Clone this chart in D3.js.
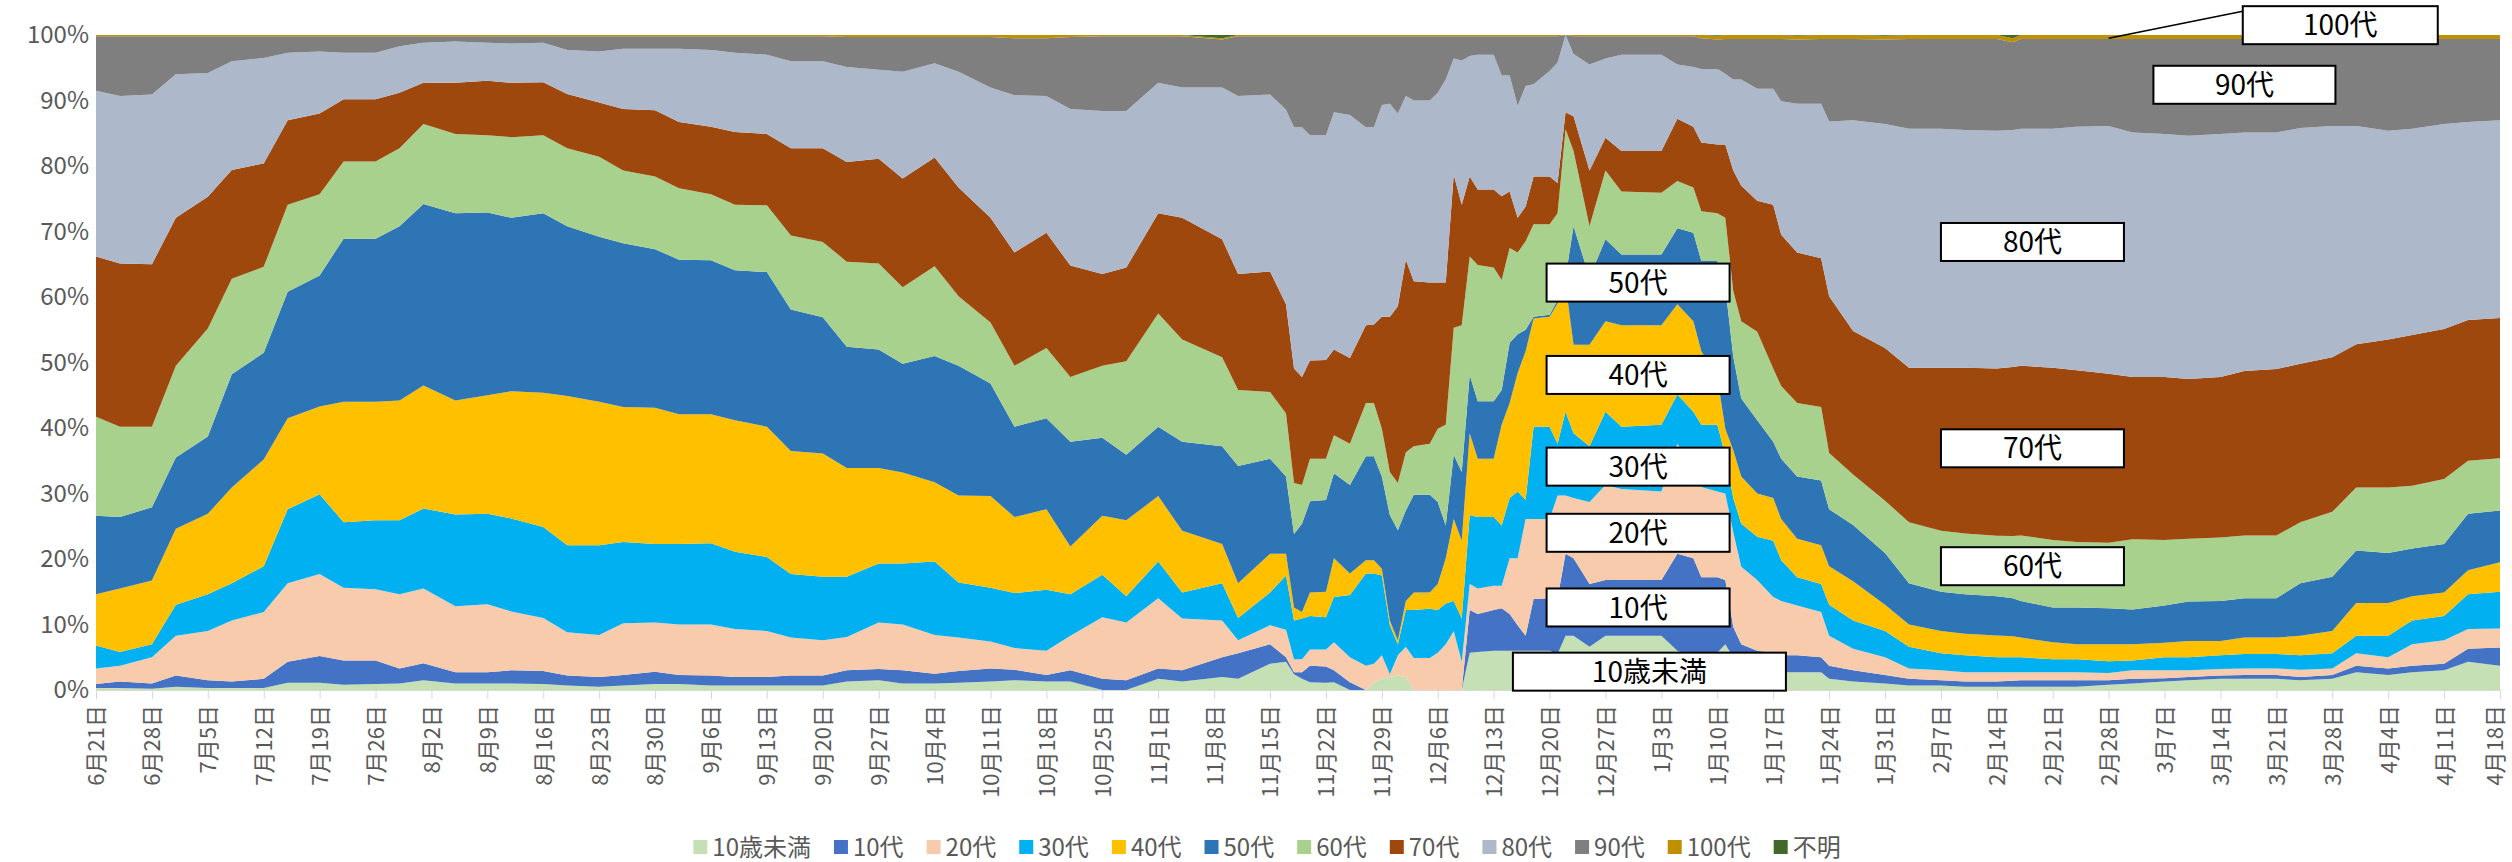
<!DOCTYPE html>
<html>
<head>
<meta charset="utf-8">
<script src="https://cdn.jsdelivr.net/npm/d3@7"></script>
<style>
  body { margin: 0; background: #fff; }
  svg text { font-family: "Noto Sans CJK JP", "Noto Sans", sans-serif; }
</style>
</head>
<body>
<svg id="chart"></svg>
<script>
var width = 2512,
    height = 862;

// sample dates (daily data at ~3-day steps, denser where it jumps)
var dates = [
  "2020-06-21","2020-06-24","2020-06-28","2020-07-01","2020-07-05","2020-07-08","2020-07-12","2020-07-15","2020-07-19","2020-07-22",
  "2020-07-26","2020-07-29","2020-08-01","2020-08-05","2020-08-09","2020-08-12","2020-08-16","2020-08-19","2020-08-23","2020-08-26",
  "2020-08-30","2020-09-02","2020-09-06","2020-09-09","2020-09-13","2020-09-16","2020-09-20","2020-09-23","2020-09-27","2020-09-30",
  "2020-10-04","2020-10-07","2020-10-11","2020-10-14","2020-10-18","2020-10-21","2020-10-25","2020-10-28","2020-11-01","2020-11-04",
  "2020-11-09","2020-11-11","2020-11-15","2020-11-17","2020-11-18","2020-11-19","2020-11-20","2020-11-22","2020-11-23","2020-11-25",
  "2020-11-27","2020-11-28","2020-11-29","2020-11-30","2020-12-01","2020-12-02","2020-12-03","2020-12-05","2020-12-06","2020-12-07",
  "2020-12-08","2020-12-09","2020-12-10","2020-12-11","2020-12-13","2020-12-14","2020-12-15","2020-12-16","2020-12-17","2020-12-18",
  "2020-12-20","2020-12-21","2020-12-22","2020-12-23","2020-12-25","2020-12-27","2020-12-29","2021-01-03","2021-01-05","2021-01-07",
  "2021-01-08","2021-01-10","2021-01-11","2021-01-12","2021-01-13","2021-01-15","2021-01-17","2021-01-18","2021-01-20","2021-01-23",
  "2021-01-24","2021-01-27","2021-01-31","2021-02-03","2021-02-07","2021-02-10","2021-02-14","2021-02-16","2021-02-17","2021-02-21",
  "2021-02-24","2021-02-28","2021-03-03","2021-03-07","2021-03-10","2021-03-14","2021-03-17","2021-03-21","2021-03-24","2021-03-28",
  "2021-03-31","2021-04-04","2021-04-07","2021-04-11","2021-04-14","2021-04-18"
];

var ageGroups = ["10歳未満", "10代", "20代", "30代", "40代", "50代", "60代", "70代", "80代", "90代", "100代", "不明"];

// share of cases (%) per age group
var under10 = [
  .3,.3,.2,.5,.3,.3,.3,1.1,1.1,.8, .9,1.0,1.5,1.0,1.0,1.0,.9,.7,.5,.7,
  .9,.9,.7,.7,.7,.7,.7,1.3,1.5,1.0, 1.0,1.1,1.3,1.5,1.3,1.3,0,0,1.7,1.3,
  2.0,1.7,4.0,4.3,2.4,1.7,1.2,1.1,1.2,0, 0,1.1,1.7,2.0,2.2,2.0,0,0,0,0,
  0,0,5.7,5.8,6.0,6.0,6.0,6.0,6.0,6.0, 6.0,5.5,8.3,8.3,6.6,8.3,8.3,8.3,6.0,5.0,
  5.7,5.7,7.0,5.0,5.0,3.0,3.0,2.7,2.7,2.7, 1.7,1.3,1.0,.7,.7,.5,.5,.5,.5,.5,
  .5,.8,1.0,1.3,1.5,1.7,1.7,1.7,1.5,1.7, 2.7,2.3,2.7,3.0,4.3,3.7
];
var age10s = [
  .6,1.0,.8,1.7,1.2,1.0,1.4,3.2,4.1,3.7, 3.6,2.3,2.6,1.7,1.7,2.0,2.0,1.5,1.5,1.6,
  1.9,1.4,1.5,1.3,1.3,1.5,1.5,1.7,1.7,2.0, 1.5,1.8,2.0,1.6,1.0,1.7,1.7,1.5,1.6,1.7,
  3.0,3.9,3.0,.7,.3,1.0,2.5,2.5,1.8,1.2, 0,0,0,0,0,0,0,0,0,0,
  0,0,6.5,5.8,6.2,6.5,5.6,3.9,2.3,7.9, 8.0,8.5,12.5,11.8,9.6,8.5,8.5,8.5,14.8,15.1,
  11.5,11.5,9.8,4.6,2.0,3.0,2.7,2.6,2.6,2.3, 2.0,1.7,1.3,1.0,.8,.8,.8,.9,1.0,1.0,
  1.0,.7,.7,.5,.5,.5,.6,.6,.5,.6, 1.0,1.0,1.0,1.0,2.0,2.8
];
var age20s = [
  2.4,2.4,4.0,6.1,7.5,9.3,10.2,12.0,12.5,11.1, 10.9,11.3,11.4,10.1,10.4,9.0,8.1,6.6,6.4,7.9,
  7.5,7.7,7.8,7.3,7.0,5.8,5.4,5.1,7.1,7.0, 5.9,5.1,4.1,3.3,3.7,5.3,9.4,8.8,10.7,7.9,
  5.6,2.0,2.9,4.2,2.0,2.0,2.5,2.6,4.3,3.8, 3.7,2.9,3.6,.4,3.1,4.6,4.9,4.9,5.7,7.0,
  9.0,4.3,4.0,3.9,3.7,3.4,8.5,10.2,17.8,12.2, 12.1,15.7,8.9,9.2,12.5,14.5,13.9,13.5,16.8,13.8,
  13.8,13.1,13.2,14.5,11.8,10.8,8.5,8.3,7.6,6.9, 4.6,3.3,2.7,1.6,1.5,1.4,1.4,1.3,1.2,1.2,
  1.2,1.1,1.3,1.2,1.0,1.0,1.0,1.0,1.1,1.0, 1.9,1.7,3.3,3.6,3.0,2.9
];
var age30s = [
  3.5,2.1,2.0,4.7,5.6,5.7,7.0,11.3,12.2,10.0, 10.5,11.3,12.2,14.0,13.8,14.2,13.9,13.3,13.7,12.4,
  12.0,12.3,12.4,11.8,11.3,9.7,9.7,9.2,9.0,9.3, 11.2,8.4,8.2,8.4,9.3,6.3,6.5,4.0,5.6,4.0,
  5.7,3.4,5.0,8.3,5.9,6.2,5.1,4.9,6.9,9.5, 14.1,13.8,12.2,7.5,1.7,5.6,7.3,7.5,6.5,6.2,
  4.6,6.6,10.5,10.9,10.5,9.2,9.2,10.2,2.9,14.1, 14.1,7.9,12.8,9.9,8.5,11.2,9.5,10.2,7.5,8.6,
  9.5,10.2,5.9,5.2,6.6,6.6,8.6,6.2,4.3,4.3, 4.7,4.3,4.0,3.3,2.6,2.6,2.3,2.3,2.3,2.0,
  2.0,1.8,1.5,2.0,2.0,2.1,2.2,2.2,2.2,2.3, 2.7,3.3,3.6,3.7,5.3,5.6
];
var age40s = [
  7.8,9.7,9.7,11.6,12.3,14.6,16.3,13.9,13.4,18.4, 18.1,18.3,18.8,17.4,18.1,19.4,20.5,22.8,21.9,20.6,
  20.8,19.8,19.7,20.1,19.9,18.8,18.8,16.6,14.6,13.9, 12.1,13.3,14.0,11.6,12.3,7.3,9.0,11.6,10.0,9.4,
  6.0,5.3,5.9,3.3,2.0,1.0,3.6,3.9,5.9,3.3, 2.0,2.0,1.0,.7,.6,1.4,2.7,2.5,4.0,6.9,
  12.5,11.9,12.5,8.9,8.9,15.4,14.5,18.1,22.7,16.5, 16.8,21.4,19.5,13.5,15.5,13.8,15.5,15.2,13.8,13.8,
  11.2,7.3,4.0,7.3,7.2,6.6,6.5,6.3,5.9,5.9, 5.9,6.0,4.0,3.4,3.4,3.3,3.3,3.2,3.0,2.6,
  2.3,2.6,2.5,2.2,2.5,2.2,2.5,2.5,3.0,3.4, 5.0,5.0,3.7,3.6,3.7,4.5
];
var age50s = [
  12.0,10.9,11.2,10.9,11.8,17.3,16.3,19.3,20.0,24.9, 24.9,26.6,27.7,28.6,27.9,26.5,27.4,25.9,25.2,25.0,
  24.2,23.6,23.5,22.9,23.6,21.6,20.8,18.5,18.1,16.6, 19.3,19.8,17.2,13.8,13.9,16.0,11.9,10.0,10.6,13.6,
  14.9,17.9,14.5,11.8,11.2,13.5,13.9,14.0,13.0,13.5, 15.9,15.9,14.1,16.1,16.8,13.8,14.9,14.9,12.5,5.0,
  9.8,10.5,8.9,8.8,8.8,5.3,9.2,5.9,3.3,.3, .3,.5,1.0,18.1,10.3,12.5,10.8,10.8,11.6,13.5,
  13.8,17.7,21.7,14.3,11.9,11.2,8.6,9.2,9.5,9.9, 8.7,8.6,7.9,6.3,6.0,6.0,6.0,5.8,5.6,5.3,
  5.6,5.5,5.3,5.7,6.0,6.1,6.0,6.0,8.0,8.3, 8.0,7.6,7.3,7.4,8.6,7.9
];
var age60s = [
  15.1,13.8,12.3,14.0,16.5,14.6,13.1,13.3,12.4,11.8, 11.8,11.9,12.2,12.1,11.8,12.3,11.9,11.9,12.2,11.1,
  11.1,10.9,10.1,10.0,10.2,11.3,11.5,13.0,13.1,11.7, 13.7,10.6,9.3,9.3,10.7,9.9,11.0,14.3,17.3,15.6,
  13.6,11.6,10.2,9.6,7.8,5.9,6.5,6.3,5.8,6.3, 8.1,8.1,7.3,6.6,7.2,8.9,7.4,7.8,11.2,15.4,
  19.4,22.4,18.1,20.8,20.4,16.8,14.5,12.5,13.5,14.1, 13.8,13.3,22.6,11.5,7.8,10.5,9.6,9.4,7.2,6.9,
  7.6,7.3,10.5,10.0,11.8,13.5,11.2,11.1,11.2,11.2, 8.6,7.7,8.0,9.3,9.3,9.3,9.2,9.5,10.0,10.3,
  10.0,10.0,10.7,10.0,9.6,9.7,9.6,9.6,9.3,9.9, 9.6,10.0,9.6,9.9,8.1,8.0
];
var age70s = [
  24.5,24.9,24.8,22.6,20.1,16.6,15.8,12.9,12.3,9.5, 9.5,8.5,6.3,7.8,8.3,8.3,8.1,8.3,8.3,9.4,
  10.1,10.1,10.3,11.1,10.9,13.3,14.3,15.2,16.0,16.6, 16.6,16.6,16.0,17.3,17.6,17.0,14.0,14.3,15.3,18.6,
  18.0,17.7,18.4,16.7,17.5,16.5,15.0,15.1,13.1,13.1, 11.9,12.0,17.1,23.7,27.0,29.4,25.2,24.6,22.3,21.7,
  23.4,18.4,12.2,11.5,11.9,12.8,8.6,5.3,5.3,7.3, 7.3,4.6,2.6,5.3,8.5,5.0,6.2,6.4,9.5,9.3,
  10.5,10.5,11.2,18.4,20.7,20.0,25.0,23.1,23.0,22.7, 23.9,21.9,23.3,23.6,24.9,25.3,25.5,25.8,25.9,26.3,
  26.2,25.8,24.8,24.9,24.4,24.5,25.1,25.4,24.2,23.6, 21.9,22.6,23.0,22.9,21.5,21.4
];
var age80s = [
  25.3,25.6,25.9,21.9,18.9,16.6,16.1,10.3,9.5,7.1, 7.1,7.1,6.1,6.3,5.8,6.0,6.0,6.7,7.8,9.2,
  9.4,11.2,11.7,12.1,12.1,13.3,13.3,14.5,13.6,16.3, 14.4,17.7,19.9,24.0,20.9,23.9,24.9,23.9,19.9,19.9,
  23.2,27.2,27.0,29.7,36.8,38.1,34.4,34.3,36.2,37.1, 30.2,30.1,32.3,32.5,29.4,25.0,27.6,27.8,29.0,31.0,
  17.7,22.0,18.4,20.6,20.6,18.4,17.7,17.1,18.4,14.1, 16.1,18.4,11.8,9.5,16.2,12.1,14.7,14.7,8.3,9.1,
  11.2,11.5,10.8,13.9,16.2,17.1,17.7,20.4,22.7,23.6, 26.7,32.2,34.2,36.5,36.5,36.3,36.2,36.2,36.2,36.5,
  37.2,37.8,37.3,37.1,37.1,37.1,36.4,36.1,36.0,35.3, 33.3,31.9,31.5,31.3,30.2,30.2
];
var age90s = [
  8.3,9.1,8.9,5.8,5.6,3.8,3.3,2.5,2.3,2.5, 2.5,1.5,1.0,.8,1.0,1.1,1.0,2.1,2.3,1.9,
  1.9,1.9,2.1,2.5,2.8,3.8,3.8,4.6,5.0,5.3, 4.0,5.3,7.7,8.7,8.8,11.0,11.4,11.4,7.1,7.8,
  7.3,9.1,8.9,11.2,13.9,13.9,15.1,15.1,11.6,12.0, 13.9,13.9,10.5,10.3,11.8,9.1,9.8,9.8,8.6,6.6,
  3.4,3.7,3.0,2.8,2.8,6.0,6.0,10.6,7.6,7.3, 5.3,4.0,0,2.7,4.3,3.4,2.8,2.8,4.3,4.7,
  4.7,4.5,5.3,6.2,6.2,7.6,7.6,9.5,9.8,9.9, 12.6,12.4,12.9,13.7,13.7,13.9,14.0,13.4,13.7,13.7,
  13.4,13.3,14.3,14.5,14.8,14.5,14.3,14.3,13.6,13.3, 13.3,14.0,13.7,13.0,12.7,12.4
];
var age100s = [
  .2,.2,.2,.2,.2,.2,.2,.2,.2,.2, .2,.2,.2,.2,.2,.2,.2,.2,.2,.2,
  .2,.2,.2,.2,.2,.2,.2,.3,.3,.3, .3,.3,.3,.5,.5,.3,.2,.2,.2,.2,
  .2,.2,.2,.2,.2,.2,.2,.2,.2,.2, .2,.2,.2,.2,.2,.2,.2,.2,.2,.2,
  .2,.2,.2,.2,.2,.2,.2,.2,.2,.2, .2,.2,0,.2,.2,.2,.2,.2,.2,.2,
  .5,.6,.6,.6,.6,.6,.6,.6,.6,.6, .6,.6,.6,.6,.6,.6,.6,.6,.6,.6,
  .6,.6,.6,.6,.6,.6,.6,.6,.6,.6, .6,.6,.6,.6,.6,.6
];
var unknown = [
  0,0,0,0,0,0,0,0,0,0, 0,0,0,0,0,0,0,0,0,0,
  0,0,0,0,0,0,0,0,0,0, 0,0,0,0,0,0,0,0,0,0,
  .5,0,0,0,0,0,0,0,0,0, 0,0,0,0,0,0,0,0,0,0,
  0,0,0,0,0,0,0,0,0,0, 0,0,0,0,0,0,0,0,0,0,
  0,.1,0,0,0,0,0,0,.1,0, 0,0,.1,0,0,0,0,.5,0,0,
  0,0,0,0,0,0,0,0,0,0, 0,0,0,0,0,0
];

var seriesValues = [under10, age10s, age20s, age30s, age40s, age50s, age60s, age70s, age80s, age90s, age100s, unknown];

var colors = ["#C5E0B4", "#4472C4", "#F8CBAD", "#00B0F0", "#FFC000", "#2E75B6",
              "#A9D18E", "#9E480E", "#ADB9CA", "#7F7F7F", "#BF9000", "#43682B"];

// boxed labels on the chart (centre date / share)
var boxLabels = [
  {text: "100代", at: "2021-03-29 00:00", share: 1.015, w: 195},
  {text: "90代", at: "2021-03-17 00:00", share: 0.924, w: 182},
  {text: "80代", at: "2021-02-18 11:00", share: 0.684, w: 183},
  {text: "70代", at: "2021-02-18 11:00", share: 0.369, w: 183},
  {text: "60代", at: "2021-02-18 11:00", share: 0.189, w: 183},
  {text: "50代", at: "2020-12-31 02:00", share: 0.622, w: 183},
  {text: "40代", at: "2020-12-31 02:00", share: 0.481, w: 183},
  {text: "30代", at: "2020-12-31 02:00", share: 0.341, w: 183},
  {text: "20代", at: "2020-12-31 02:00", share: 0.240, w: 183},
  {text: "10代", at: "2020-12-31 02:00", share: 0.126, w: 183},
  {text: "10歳未満", at: "2021-01-01 12:00", share: 0.028, w: 273}
];

var parseDate = d3.timeParse("%Y-%m-%d");
var parseTime = d3.timeParse("%Y-%m-%d %H:%M");

var svg = d3.select("#chart")
    .attr("width", width)
    .attr("height", height)
    .style("background", "#fff");

var rows = dates.map(function(d, i) {
  var r = {date: parseDate(d)};
  ageGroups.forEach(function(k, j) { r[k] = seriesValues[j][i]; });
  return r;
});

var x = d3.scaleTime()
    .domain([parseDate("2020-06-21"), parseDate("2021-04-18")])
    .range([96, 2500]);
var y = d3.scaleLinear()
    .domain([0, 1])
    .range([690, 35]);

var layers = d3.stack()
    .keys(ageGroups)
    .offset(d3.stackOffsetExpand)(rows);

var area = d3.area()
    .x(function(d) { return x(d.data.date); })
    .y0(function(d) { return y(d[0]); })
    .y1(function(d) { return y(d[1]); });

svg.append("g").selectAll("path")
    .data(layers)
  .enter().append("path")
    .attr("d", area)
    .attr("fill", function(d, i) { return colors[i]; });

//x axis
var xAxis = svg.append("g")
    .attr("transform", "translate(0,690)")
    .call(d3.axisBottom(x)
      .ticks(d3.timeWeek.every(1))
      .tickFormat(d3.timeFormat("%-m月%-d日"))
      .tickSizeInner(9)
      .tickSizeOuter(0))
    .attr("font-family", null)
    .attr("font-size", null);
xAxis.select(".domain").attr("stroke", "#d9d9d9");
xAxis.selectAll(".tick line").attr("stroke", "#d9d9d9");
var tickLabels = xAxis.selectAll(".tick text")
    .attr("transform", "rotate(-90)")
    .attr("text-anchor", "end")
    .attr("x", -15)
    .attr("y", 0)
    .attr("dy", "0.36em")
    .attr("fill", "#595959")
    .style("font-size", "22px");
// keep the last label inside the page edge
tickLabels.filter(function(d, i, n) { return i === n.length - 1; })
    .attr("dy", "0.1em");

//y axis
var yAxis = svg.append("g")
    .attr("transform", "translate(96,0)")
    .call(d3.axisLeft(y)
      .ticks(10)
      .tickFormat(d3.format(".0%"))
      .tickSize(0)
      .tickPadding(7))
    .attr("font-family", null)
    .attr("font-size", null);
yAxis.select(".domain").remove();
yAxis.selectAll(".tick text")
    .attr("fill", "#595959")
    .style("font-size", "24px");

//leader line for 100代
var box100 = boxLabels[0];
svg.append("line")
    .attr("x1", x(parseTime(box100.at)) - box100.w / 2)
    .attr("y1", y(box100.share) - 14)
    .attr("x2", x(parseDate("2021-02-28")))
    .attr("y2", y(0.995))
    .attr("stroke", "#000")
    .attr("stroke-width", 1.5);

//boxed labels
var boxes = svg.append("g").selectAll("g")
    .data(boxLabels)
  .enter().append("g")
    .attr("transform", function(d) {
      return "translate(" + x(parseTime(d.at)) + "," + y(d.share) + ")";
    });
boxes.append("rect")
    .attr("x", function(d) { return -d.w / 2; })
    .attr("y", -19)
    .attr("width", function(d) { return d.w; })
    .attr("height", 38)
    .attr("fill", "#fff")
    .attr("stroke", "#000")
    .attr("stroke-width", 2);
boxes.append("text")
    .attr("text-anchor", "middle")
    .attr("dy", "0.36em")
    .attr("fill", "#000")
    .style("font-size", "28px")
    .text(function(d) { return d.text; });

//legend
var legend = svg.append("g");
var lx = 0;
ageGroups.forEach(function(name, i) {
  var item = legend.append("g").attr("transform", "translate(" + lx + ",0)");
  item.append("rect")
      .attr("x", 0)
      .attr("y", -7)
      .attr("width", 14)
      .attr("height", 14)
      .attr("fill", colors[i]);
  var t = item.append("text")
      .attr("x", 19)
      .attr("dy", "0.36em")
      .attr("fill", "#595959")
      .style("font-size", "24px")
      .text(name);
  lx += 19 + t.node().getComputedTextLength() + 23;
});
legend.attr("transform", "translate(" + (1267 - (lx - 23) / 2) + ",847)");
</script>
</body>
</html>
